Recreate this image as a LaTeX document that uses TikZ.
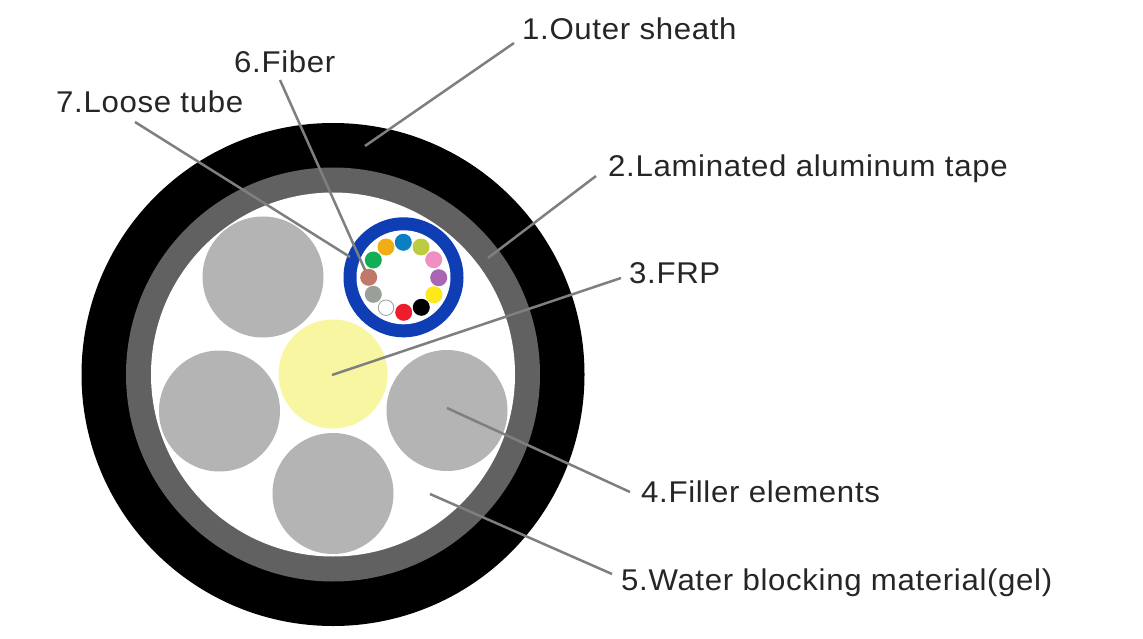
\documentclass[tikz,border=0pt]{standalone}
\usepackage{fontspec}
\setmainfont[FakeStretch=1.04,LetterSpace=2.2]{Liberation Sans}
\definecolor{ringgray}{HTML}{616161}
\definecolor{filler}{HTML}{B4B4B4}
\definecolor{frp}{HTML}{F8F6A0}
\definecolor{tube}{HTML}{0F3EB4}
\definecolor{leader}{HTML}{7F7F7F}
\definecolor{cblue}{HTML}{0C7FC4}
\definecolor{corange}{HTML}{F0AE14}
\definecolor{cgreen}{HTML}{12AE56}
\definecolor{cbrown}{HTML}{C0786A}
\definecolor{cgray}{HTML}{98A098}
\definecolor{cred}{HTML}{EE1C2C}
\definecolor{cblack}{HTML}{000000}
\definecolor{cyellow}{HTML}{FDE81A}
\definecolor{cpurple}{HTML}{A866B4}
\definecolor{cpink}{HTML}{F090C0}
\definecolor{colive}{HTML}{BCCC40}
\tikzset{x=1pt,y=-1pt,
 lbl/.style={font=\fontsize{30}{32}\selectfont,text=black!85,inner sep=0pt,anchor=base west},
 lead/.style={draw=leader,line width=2.5pt},
 disc/.style={circle,inner sep=0pt,minimum size=#1},
 fib/.style={circle,inner sep=0pt,minimum size=17pt,fill=#1}}
\begin{document}
\begin{tikzpicture}
\useasboundingbox (0,0) rectangle (1143,639);
\fill[white] (0,0) rectangle (1143,639);
\node[disc=503pt,fill=black] (sheath) at (333,374.5) {};
\node[disc=414pt,fill=ringgray] (tape) at (333,374.5) {};
\node[disc=364pt,fill=white] (gel) at (333,374.5) {};
\node[disc=121pt,fill=filler] (f1) at (263,277) {};
\node[disc=121pt,fill=filler] (f2) at (219.5,411) {};
\node[disc=121pt,fill=filler] (f3) at (333,493.5) {};
\node[disc=121pt,fill=filler] (f4) at (447,410.5) {};
\node[disc=109pt,fill=frp] (frpc) at (333,374) {};
\node[disc=120pt,fill=tube] (tubeo) at (403.5,277.3) {};
\node[disc=94pt,fill=white] (tubei) at (403.5,277.3) {};
\node[fib=cblue] (a1) at (403.3,242.3) {};
\node[fib=corange] (a2) at (386,247) {};
\node[fib=cgreen] (a3) at (373.3,260) {};
\node[fib=cbrown] (a4) at (368.7,277.3) {};
\node[fib=cgray] (a5) at (373.3,294.3) {};
\node[fib=white,draw=cgray,line width=0.8pt,minimum size=15.5pt] (a6) at (386,307.7) {};
\node[fib=cred] (a7) at (403.7,312.3) {};
\node[fib=cblack] (a8) at (421.3,307.3) {};
\node[fib=cyellow] (a9) at (434,294.7) {};
\node[fib=cpurple] (a10) at (438.7,277.7) {};
\node[fib=cpink] (a11) at (433.7,259.7) {};
\node[fib=colive] (a12) at (421,247) {};
\node[lbl] (l1) at (522,39.5) {1.Outer sheath};
\node[lbl] (l2) at (608,177) {2.Laminated aluminum tape};
\node[lbl] (l3) at (629,283) {3.FRP};
\node[lbl] (l4) at (641,502) {4.Filler elements};
\node[lbl] (l5) at (621,590.5) {5.Water blocking material(gel)};
\node[lbl] (l6) at (234,73) {6.Fiber};
\node[lbl] (l7) at (56,113) {7.Loose tube};
\coordinate (p1a) at (514,43); \coordinate (p1b) at (365,146);
\coordinate (p2a) at (596,176); \coordinate (p2b) at (488,258);
\coordinate (p3a) at (621,278); \coordinate (p3b) at (332,375);
\coordinate (p4a) at (630,492); \coordinate (p4b) at (447,408);
\coordinate (p5a) at (612,574); \coordinate (p5b) at (430,494);
\coordinate (p6a) at (280,80); \coordinate (p6b) at (365,270);
\coordinate (p7a) at (135,122); \coordinate (p7b) at (350,257);
\foreach \n in {1,...,7} \draw[lead] (p\n a) -- (p\n b);
\end{tikzpicture}
\end{document}
